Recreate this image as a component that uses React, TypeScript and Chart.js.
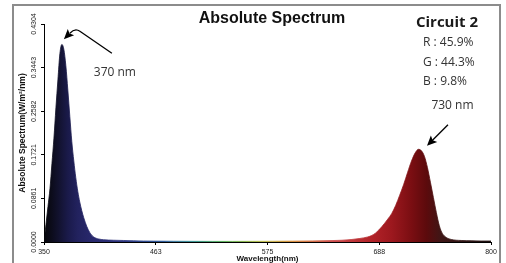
import React, { useEffect, useRef } from "react";
import { Chart, registerables } from "chart.js";

Chart.register(...registerables);

// ---- data ----
const wavelengths = [
  350, 352, 354, 356, 358, 360, 362, 364, 366, 368, 370, 372, 374, 376, 378, 380,
  382, 384, 386, 388, 390, 393, 396, 400, 405, 410, 420, 430, 440, 450, 460, 480,
  500, 520, 540, 560, 580, 600, 620, 640, 650, 660, 668, 676, 680, 684, 690, 696,
  700, 704, 708, 712, 716, 720, 724, 727, 730, 733, 736, 739, 742, 745, 748, 751,
  755, 760, 770, 780, 790, 800,
];
const intensities = [
  0.0, 0.035, 0.07, 0.105, 0.155, 0.205, 0.265, 0.32, 0.372, 0.39, 0.38, 0.348, 0.3, 0.248, 0.198, 0.16,
  0.127, 0.1, 0.079, 0.062, 0.048, 0.031, 0.019, 0.01, 0.006, 0.0045, 0.0035, 0.003, 0.0025, 0.002, 0.0018, 0.0015,
  0.0013, 0.0012, 0.0012, 0.0013, 0.0015, 0.0018, 0.0022, 0.0028, 0.0035, 0.005, 0.007, 0.01, 0.013, 0.018, 0.03, 0.045,
  0.056, 0.072, 0.092, 0.113, 0.137, 0.16, 0.177, 0.183, 0.18, 0.169, 0.147, 0.118, 0.088, 0.058, 0.032, 0.017,
  0.009, 0.005, 0.003, 0.0025, 0.002, 0.002,
];
const xTickValues = [350, 462.5, 575, 687.5, 800];
const yTickValues = [0, 0.0861, 0.1721, 0.2582, 0.3443, 0.4304];
const peakWavelengths = [368, 727];
const peakLabels = ["370 nm", "730 nm"];
const chartTitle = "Absolute Spectrum";
const legendTitle = "Circuit 2";
const legendLines = ["R : 45.9%", "G : 44.3%", "B : 9.8%"];
const xTitle = "Wavelength(nm)";
const yTitle = "Absolute Spectrum(W/m²/nm)";

// ---- styles ----
const gradientStops: [number, string][] = [
  [350, "#07070a"],
  [358, "#0c0c1c"],
  [366, "#131332"],
  [374, "#1a1a4a"],
  [384, "#22225e"],
  [400, "#29296e"],
  [430, "#2c347e"],
  [470, "#2f5c9c"],
  [500, "#2f9090"],
  [530, "#46a846"],
  [570, "#b8b840"],
  [600, "#d89040"],
  [640, "#cc4c4c"],
  [680, "#b22228"],
  [700, "#9c181e"],
  [720, "#7a0e12"],
  [735, "#5c0a0c"],
  [750, "#3e1616"],
  [800, "#1e1010"],
];
const SANS = "'Liberation Sans', Arial, sans-serif";
const OPEN = "'Open Sans', 'Noto Sans', sans-serif";

function spectrumGradient(chart: any) {
  const xs = chart.scales?.x;
  if (!xs || !chart.chartArea) return "#222";
  const x0 = xs.getPixelForValue(350);
  const x1 = xs.getPixelForValue(800);
  const g = chart.ctx.createLinearGradient(x0, 0, x1, 0);
  for (const [w, c] of gradientStops) g.addColorStop((w - 350) / 450, c);
  return g;
}

function arrowHead(ctx: CanvasRenderingContext2D, fx: number, fy: number, tx: number, ty: number, len = 10, hw = 4.5) {
  const a = Math.atan2(ty - fy, tx - fx);
  const bx = tx - len * Math.cos(a);
  const by = ty - len * Math.sin(a);
  ctx.beginPath();
  ctx.moveTo(tx, ty);
  ctx.lineTo(bx + hw * Math.sin(a), by - hw * Math.cos(a));
  ctx.lineTo(bx + 2 * Math.cos(a), by + 2 * Math.sin(a));
  ctx.lineTo(bx - hw * Math.sin(a), by + hw * Math.cos(a));
  ctx.closePath();
  ctx.fill();
}

const decorPlugin = {
  id: "decor",
  afterDraw(chart: any) {
    const ctx: CanvasRenderingContext2D = chart.ctx;
    const xs = chart.scales.x;
    const ys = chart.scales.y;
    ctx.save();
    // frame
    ctx.strokeStyle = "#8c8c8c";
    ctx.lineWidth = 2;
    ctx.strokeRect(13, 5, 487, 300);

    // title
    ctx.fillStyle = "#111";
    ctx.font = `bold 16px ${SANS}`;
    ctx.textAlign = "center";
    ctx.textBaseline = "middle";
    ctx.fillText(chartTitle, 272, 19);

    // legend box
    ctx.font = `bold 15px ${OPEN}`;
    ctx.fillStyle = "#1a1a1a";
    ctx.fillText(legendTitle, 447, 23);
    ctx.font = `12px ${OPEN}`;
    ctx.fillStyle = "#333";
    ctx.textAlign = "left";
    legendLines.forEach((t, i) => ctx.fillText(t, 423, 43 + i * 19.3));

    // peak annotations
    const peaks = peakWavelengths.map((w) => {
      const i = wavelengths.indexOf(w);
      return { x: xs.getPixelForValue(w), y: ys.getPixelForValue(intensities[i]) };
    });
    ctx.strokeStyle = "#000";
    ctx.fillStyle = "#000";
    ctx.lineWidth = 1.3;

    // 370 nm: hooked arrow
    {
      const p = peaks[0];
      const tx = p.x + 2, ty = p.y - 5.2;
      ctx.beginPath();
      ctx.moveTo(tx + 48, ty + 14);
      ctx.lineTo(tx + 16, ty - 8);
      ctx.quadraticCurveTo(tx + 11, ty - 11.5, tx + 6, ty - 6);
      ctx.stroke();
      arrowHead(ctx, tx + 8, ty - 8, tx, ty);
      ctx.font = `12px ${OPEN}`;
      ctx.fillStyle = "#333";
      ctx.textAlign = "center";
      ctx.fillText(peakLabels[0], tx + 51, ty + 33);
    }
    // 730 nm: straight arrow
    {
      const p = peaks[1];
      const tx = p.x + 8.5, ty = p.y - 3.5;
      ctx.fillStyle = "#000";
      ctx.beginPath();
      ctx.moveTo(tx + 21, ty - 21);
      ctx.lineTo(tx + 4, ty - 4);
      ctx.stroke();
      arrowHead(ctx, tx + 21, ty - 21, tx, ty);
      ctx.font = `12px ${OPEN}`;
      ctx.fillStyle = "#333";
      ctx.textAlign = "center";
      ctx.fillText(peakLabels[1], tx + 25.5, ty - 40);
    }
    ctx.restore();
  },
};

export default function App() {
  const ref = useRef<HTMLCanvasElement>(null);
  useEffect(() => {
    if (!ref.current) return;
    const chart = new Chart(ref.current, {
      type: "line",
      data: {
        datasets: [
          {
            data: wavelengths.map((w, i) => ({ x: w, y: intensities[i] })),
            fill: "origin",
            backgroundColor: (c: any) => spectrumGradient(c.chart),
            borderColor: (c: any) => spectrumGradient(c.chart),
            borderWidth: 0.8,
            pointRadius: 0,
            cubicInterpolationMode: "monotone",
          },
        ],
      },
      options: {
        responsive: false,
        animation: false,
        devicePixelRatio: 1,
        layout: { padding: { top: 24, right: 15, left: 0, bottom: 0 } },
        plugins: { legend: { display: false }, tooltip: { enabled: false }, title: { display: false } },
        scales: {
          x: {
            type: "linear",
            min: 350,
            max: 800,
            afterBuildTicks: (s: any) => {
              s.ticks = xTickValues.map((v) => ({ value: v }));
            },
            afterFit: (s: any) => {
              s.height = 21;
            },
            ticks: {
              autoSkip: false,
              maxRotation: 0,
              padding: 3,
              color: "#222",
              font: { family: SANS, size: 7 },
              callback: (v: any) => String(Math.round(Number(v))),
            },
            grid: { display: true, drawOnChartArea: false, drawTicks: true, tickLength: 3, color: "#000" },
            border: { display: true, color: "#000", width: 1 },
            title: {
              display: true,
              text: xTitle,
              color: "#111",
              font: { family: SANS, size: 8, weight: "bold", lineHeight: 1 },
              padding: { top: 0, bottom: 0 },
            },
          },
          y: {
            min: 0,
            max: 0.4304,
            afterBuildTicks: (s: any) => {
              s.ticks = yTickValues.map((v) => ({ value: v }));
            },
            afterFit: (s: any) => {
              s.width = 44;
            },
            ticks: {
              autoSkip: false,
              minRotation: 90,
              maxRotation: 90,
              crossAlign: "center",
              padding: -3.7,
              color: "#222",
              font: { family: SANS, size: 7 },
              callback: (v: any) => Number(v).toFixed(4),
            },
            grid: { display: true, drawOnChartArea: false, drawTicks: true, tickLength: 3, color: "#000" },
            border: { display: true, color: "#000", width: 1 },
            title: {
              display: true,
              text: yTitle,
              color: "#111",
              font: { family: SANS, size: 8.5, weight: "bold", lineHeight: 1 },
              padding: { top: 18.5, bottom: 0 },
            },
          },
        },
      } as any,
      plugins: [decorPlugin],
    });
    return () => chart.destroy();
  }, []);
  return (
    <div style={{ position: "absolute", left: 0, top: 0, width: 506, height: 263, background: "#fff" }}>
      <canvas ref={ref} width={506} height={263} />
    </div>
  );
}
